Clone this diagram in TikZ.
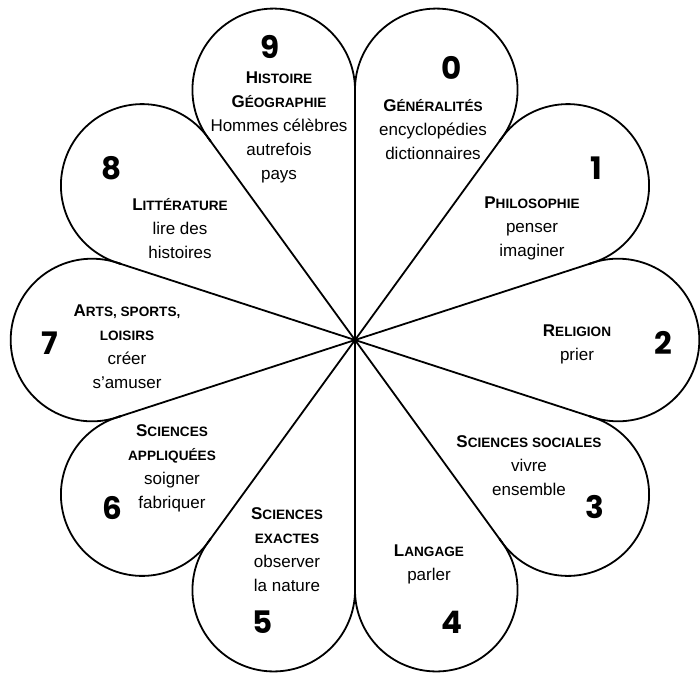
\documentclass[tikz,border=0pt]{standalone}
\usepackage{fontspec}
\setmainfont{Liberation Sans}
\newfontfamily\numfont{Poppins}
\usetikzlibrary{calc}
\newcommand\SCap[2]{{\fontsize{17}{24}\selectfont\bfseries #1}{\fontsize{13.6}{24}\selectfont\bfseries #2}}
\begin{document}
\begin{tikzpicture}[x=1pt,y=-1pt,
  petal/.style={draw=black,line width=1.8pt,line cap=round},
  txt/.style={align=center,inner sep=0pt,font=\fontsize{17}{24}\selectfont},
  numb/.style={inner sep=0pt,font=\numfont\bfseries\fontsize{31}{31}\selectfont}]
\useasboundingbox (0,0) rectangle (700,673);
\coordinate (C) at (355,340);
% dividing lines
\foreach \a in {-90,-54,-18,18,54,90,126,162,198,234}
  \draw[petal] (C) -- ++(\a:250.1);
% petal arcs
\foreach \p in {0,36,...,324}
  \draw[petal] ($(C)+(\p:263)+(\p-111:81.3)$) arc[start angle=\p-111, end angle=\p+111, radius=81.3];
% texts
\node[txt] (t9) at (279,127) {\SCap{H}{ISTOIRE}\\\SCap{G}{ÉOGRAPHIE}\\Hommes célèbres\\autrefois\\pays};
\node[txt] (t0) at (433,130) {\SCap{G}{ÉNÉRALITÉS}\\encyclopédies\\dictionnaires};
\node[txt] (t8) at (180,228.5) {\SCap{L}{ITTÉRATURE}\\lire des\\histoires};
\node[txt] (t7) at (127,347) {\SCap{A}{RTS, SPORTS,}\\\SCap{}{LOISIRS}\\créer\\s’amuser};
\node[txt] (t1) at (532,228) {\SCap{P}{HILOSOPHIE}\\penser\\imaginer};
\node[txt] (t2) at (577,344.5) {\SCap{R}{ELIGION}\\prier};
\node[txt] (t3) at (529,466) {\SCap{S}{CIENCES SOCIALES}\\vivre\\ensemble};
\node[txt] (t4) at (429,564.5) {\SCap{L}{ANGAGE}\\parler};
\node[txt] (t5) at (287,550) {\SCap{S}{CIENCES}\\\SCap{}{EXACTES}\\observer\\la nature};
\node[txt] (t6) at (172,468) {\SCap{S}{CIENCES}\\\SCap{}{APPLIQUÉES}\\soigner\\fabriquer};
% numbers
\node[numb] (n9) at (270,47) {9};
\node[numb] (n0) at (452,68) {0};
\node[numb] (n8) at (112,168) {8};
\node[numb] (n1) at (596,168) {1};
\node[numb] (n7) at (50,343) {7};
\node[numb] (n2) at (663,343) {2};
\node[numb] (n6) at (112,508) {6};
\node[numb] (n3) at (595,507) {3};
\node[numb] (n5) at (263,622) {5};
\node[numb] (n4) at (452,622) {4};
\end{tikzpicture}
\end{document}
